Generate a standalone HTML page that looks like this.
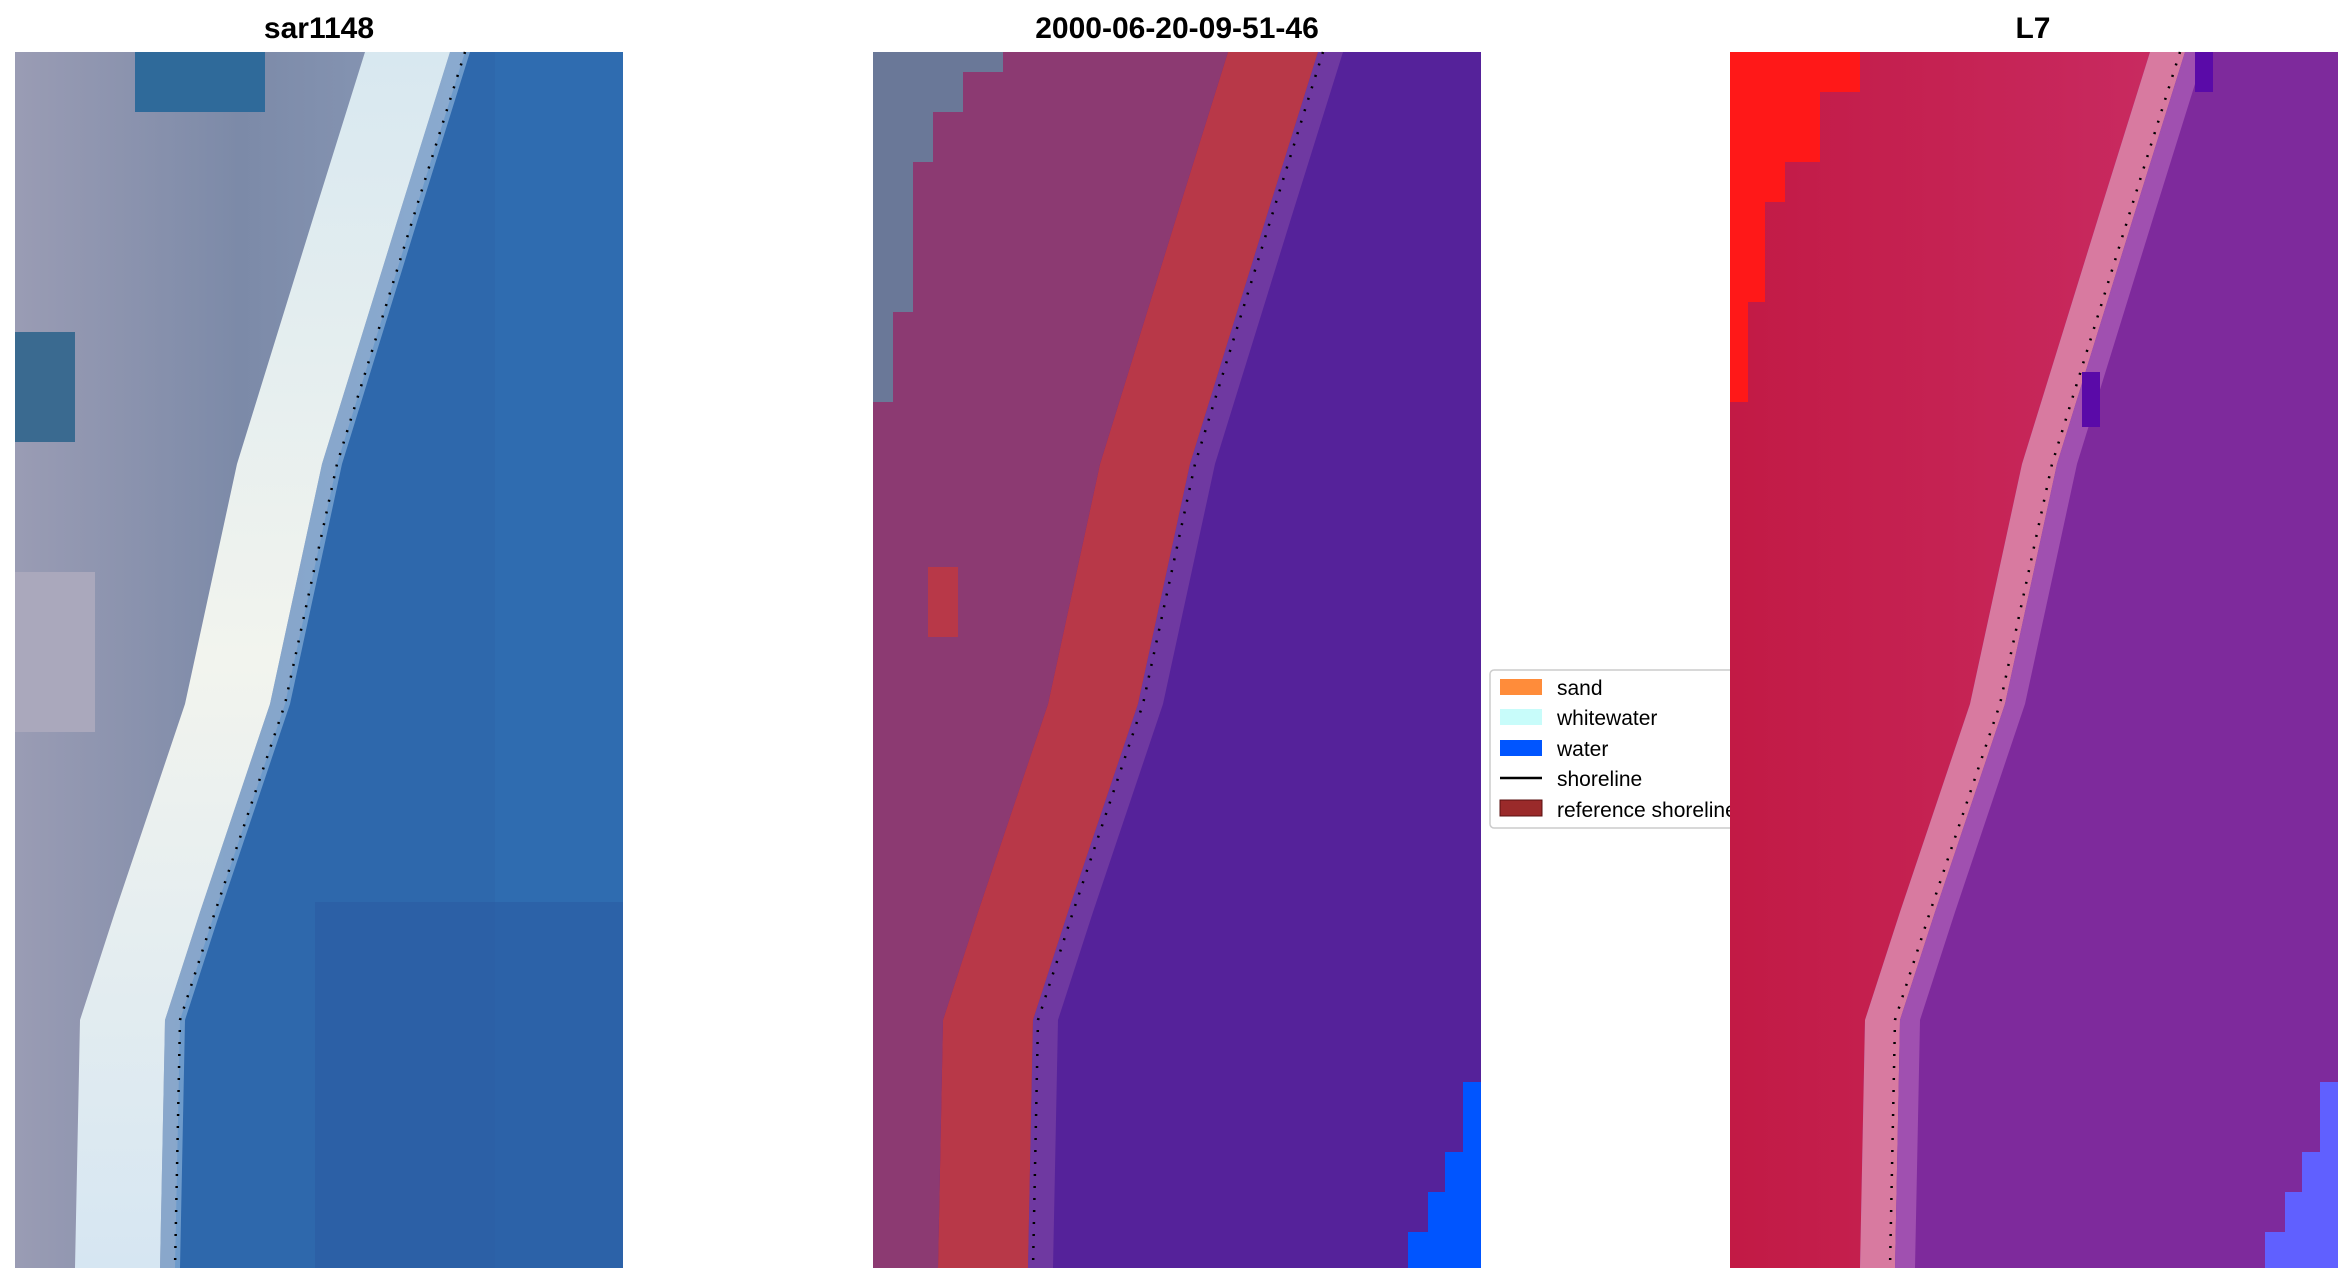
<!DOCTYPE html>
<html><head><meta charset="utf-8"><style>
html,body{margin:0;padding:0;background:#fff;width:2352px;height:1283px;overflow:hidden}
svg{display:block}
text{font-family:"Liberation Sans","DejaVu Sans",sans-serif}
</style></head><body>
<svg width="2352" height="1283" viewBox="0 0 2352 1283" xmlns="http://www.w3.org/2000/svg">
<defs>
<linearGradient id="g1l" x1="0" y1="0" x2="1" y2="0">
<stop offset="0" stop-color="#9a9cb4"/><stop offset="0.5" stop-color="#7c8aa8"/><stop offset="1" stop-color="#8a9ab8"/></linearGradient>
<linearGradient id="g3b" x1="0" y1="0" x2="1" y2="0">
<stop offset="0" stop-color="#c21a45"/><stop offset="1" stop-color="#c82a60"/></linearGradient>
<linearGradient id="g1w" x1="0" y1="0" x2="0" y2="1">
<stop offset="0" stop-color="#d8e8f0"/><stop offset="0.5" stop-color="#f2f4ee"/><stop offset="1" stop-color="#d6e6f2"/></linearGradient>
</defs>
<text x="319" y="38" font-size="30" font-weight="bold" text-anchor="middle">sar1148</text>
<text x="1177" y="38" font-size="30" font-weight="bold" text-anchor="middle">2000-06-20-09-51-46</text>
<text x="2033" y="38" font-size="30" font-weight="bold" text-anchor="middle">L7</text>

<rect x="1490" y="670" width="260" height="158" fill="#fff" stroke="#ccc" stroke-width="1.5" rx="4"/>
<rect x="1500" y="679" width="42" height="16" fill="#ff8c3a"/>
<text x="1557" y="695" font-size="21">sand</text>
<rect x="1500" y="709" width="42" height="16" fill="#c8fcfa"/>
<text x="1557" y="725" font-size="21">whitewater</text>
<rect x="1500" y="740" width="42" height="16" fill="#0055ff"/>
<text x="1557" y="756" font-size="21">water</text>
<line x1="1500" y1="778" x2="1542" y2="778" stroke="#000" stroke-width="2.5"/>
<text x="1557" y="786" font-size="21">shoreline</text>
<rect x="1500" y="800" width="42" height="16" fill="#9a2a2a" stroke="#5a1010"/>
<text x="1557" y="817" font-size="21">reference shoreline</text>

<!-- Panel 1 -->
<g transform="translate(15,52)">
<rect width="608" height="1216" fill="#2e68ac"/>
<polygon points="0,0 450,0 400,160 322,412 270,652 200,860 165,968 160,1216 0,1216" fill="url(#g1l)"/>
<rect x="120" y="0" width="130" height="60" fill="#2f6a9a"/>
<rect x="0" y="280" width="60" height="110" fill="#3a6a90"/>
<rect x="0" y="520" width="80" height="160" fill="#aaa8bc"/>
<polygon points="350,0 300,160 222,412 170,652 100,860 65,968 60,1216 145,1216 150,968 185,860 255,652 307,412 385,160 435,0" fill="url(#g1w)"/>
<polygon points="435,0 385,160 307,412 255,652 185,860 150,968 145,1216 165,1216 170,968 205,860 275,652 327,412 405,160 455,0" fill="#8ab0d8" opacity="0.7"/>
<rect x="480" y="0" width="128" height="1216" fill="#2f6fb4" opacity="0.5"/>
<rect x="300" y="850" width="308" height="366" fill="#2a58a0" opacity="0.5"/>
<polyline points="450,0 400,160 322,412 270,652 200,860 165,968 160,1216" fill="none" stroke="#000" stroke-width="2.5" stroke-dasharray="2,10"/>
</g>

<!-- Panel 2 -->
<g transform="translate(873,52)">
<rect width="608" height="1216" fill="#55229a"/>
<polygon points="0,0 355,0 305,160 227,412 175,652 105,860 70,968 65,1216 0,1216" fill="#8c3a72"/>
<polygon points="0,0 130,0 130,20 90,20 90,60 60,60 60,110 40,110 40,260 20,260 20,350 0,350" fill="#6a7898"/>
<polygon points="355,0 305,160 227,412 175,652 105,860 70,968 65,1216 155,1216 160,968 195,860 265,652 317,412 395,160 445,0" fill="#b83848"/>
<rect x="55" y="515" width="30" height="70" fill="#b83848"/>
<polygon points="445,0 395,160 317,412 265,652 195,860 160,968 155,1216 180,1216 185,968 220,860 290,652 342,412 420,160 470,0" fill="#8a50a8" opacity="0.5"/>
<polygon points="590,1030 608,1030 608,1216 535,1216 535,1180 555,1180 555,1140 572,1140 572,1100 590,1100" fill="#0055ff"/>
<polyline points="450,0 400,160 322,412 270,652 200,860 165,968 160,1216" fill="none" stroke="#000" stroke-width="2.5" stroke-dasharray="2,10"/>
</g>

<!-- Panel 3 -->
<g transform="translate(1730,52)">
<rect width="608" height="1216" fill="#7e2a9c"/>
<polygon points="0,0 420,0 370,160 292,412 240,652 170,860 135,968 130,1216 0,1216" fill="url(#g3b)"/>
<polygon points="0,0 130,0 130,40 90,40 90,110 55,110 55,150 35,150 35,250 18,250 18,350 0,350" fill="#ff1818"/>
<polygon points="420,0 370,160 292,412 240,652 170,860 135,968 130,1216 165,1216 170,968 205,860 275,652 327,412 405,160 455,0" fill="#d87aa0"/>
<polygon points="455,0 405,160 327,412 275,652 205,860 170,968 165,1216 185,1216 190,968 225,860 295,652 347,412 425,160 475,0" fill="#a050b0"/>
<rect x="352" y="320" width="18" height="55" fill="#5a0aa8"/>
<rect x="465" y="0" width="18" height="40" fill="#5a0aa8"/>
<polygon points="590,1030 608,1030 608,1216 535,1216 535,1180 555,1180 555,1140 572,1140 572,1100 590,1100" fill="#6060ff"/>
<polyline points="450,0 400,160 322,412 270,652 200,860 165,968 160,1216" fill="none" stroke="#000" stroke-width="2.5" stroke-dasharray="2,10"/>
</g>
</svg>
</body></html>
